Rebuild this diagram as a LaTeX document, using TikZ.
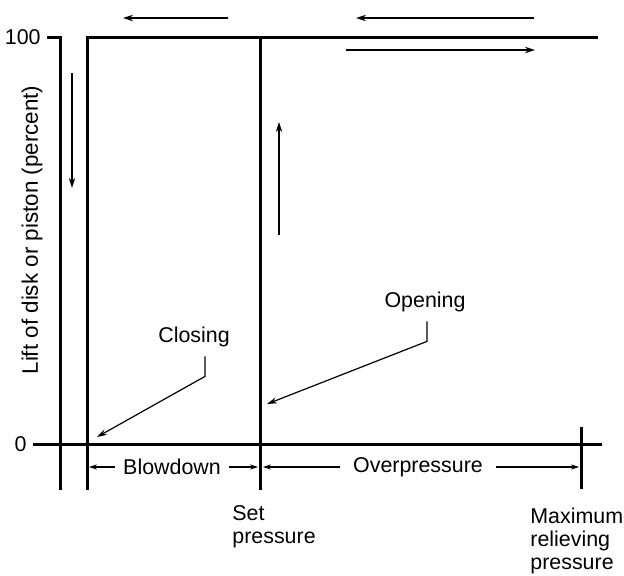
\documentclass[tikz,border=0pt]{standalone}
\usepackage{fontspec}
\setmainfont{Liberation Sans}
\usetikzlibrary{positioning,arrows.meta,calc}

\begin{document}
\begin{tikzpicture}[
  x=0.5pt, y=-0.5pt,
  axis/.style={line width=1.5pt},
  flow/.style={-{Stealth[length=5pt,width=3.2pt]}, line width=0.6pt},
  leader/.style={-{Stealth[length=5pt,width=3pt]}, line width=0.6pt},
  dim/.style={-{Stealth[length=4pt,width=2.6pt]}, line width=0.6pt},
  lbl/.style={font=\fontsize{10.7}{11.5}\selectfont, inner sep=0pt},
  >=Stealth
]
  \useasboundingbox (0,0) rectangle (624,575);

  % axes
  \draw[axis] (47,37) -- (60,37) -- (60,490);
  \draw[axis] (33,444) -- (602,444);
  \node[lbl, font=\fontsize{11.2}{12}\selectfont, rotate=90] (ylab) at (32,230) {Lift of disk or piston (percent)};
  \node[lbl, anchor=east] (top) at (41,37) {100};
  \node[lbl, anchor=east] (zero) at (27,444) {0};

  % lift curve
  \draw[axis] (87,490) -- (87,37) -- (598,37);
  \draw[axis] (260,37) -- (260,490);
  \draw[axis] (581,427) -- (581,489);

  % direction of travel
  \draw[flow] (228,18) -- (123,18);
  \draw[flow] (534,18) -- (356,18);
  \draw[flow] (346,50) -- (535,50);
  \draw[flow] (72,73) -- (72,188);
  \draw[flow] (279,235) -- (279,122);

  % leaders
  \node[lbl] (closing) at (194,337) {Closing};
  \coordinate (closeTip) at (97,437);
  \draw[leader] ($(closing.south)+(11,9)$) -- ++(0,20) -- (closeTip);

  \node[lbl] (opening) at (425,302) {Opening};
  \coordinate (openTip) at (267,404);
  \draw[leader] ($(opening.south)+(2,9)$) -- ++(0,20) -- (openTip);

  % dimensions
  \coordinate (closeFoot) at (89,467);
  \coordinate (setFootL) at (258,467);
  \coordinate (setFootR) at (263,467);
  \coordinate (maxFoot) at (579,467);
  \node[lbl, inner xsep=4pt] (blow) at (172,467) {Blowdown};
  \draw[dim] (blow.west) -- (closeFoot);
  \draw[dim] (blow.east) -- (setFootL);
  \node[lbl, inner xsep=6.5pt] (over) at (418,467) {Overpressure};
  \draw[dim] (over.west) -- (setFootR);
  \draw[dim] (over.east) -- (maxFoot);

  \node[lbl, anchor=north west, align=left] (setp) at (232,505) {Set\\pressure};
  \node[lbl, anchor=north west, align=left] (maxp) at (530,508) {Maximum\\relieving\\pressure};
\end{tikzpicture}
\end{document}
